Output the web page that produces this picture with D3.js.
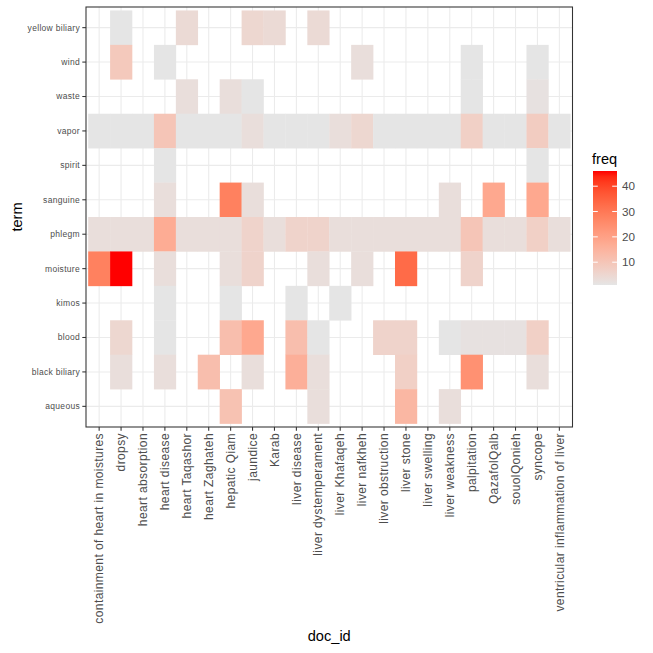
<!DOCTYPE html>
<html>
<head>
  <meta charset="utf-8">
  <title>term by doc_id heatmap</title>
  <script src="https://cdn.jsdelivr.net/npm/d3@7"></script>
  <style>
    body { margin: 0; background: #fff; }
    text { font-family: "Liberation Sans", Arial, sans-serif; }
  </style>
</head>
<body>
<script>
// categories
var docIds = ["containment of heart in moistures", "dropsy", "heart absorption", "heart disease",
  "heart Taqashor", "heart Zaghateh", "hepatic Qiam", "jaundice", "Karab", "liver disease",
  "liver dystemperament", "liver Khafaqeh", "liver nafkheh", "liver obstruction", "liver stone",
  "liver swelling", "liver weakness", "palpitation", "QazafolQalb", "souolQonieh", "syncope",
  "ventricular inflammation of liver"];

// top to bottom, as drawn
var terms = ["yellow biliary", "wind", "waste", "vapor", "spirit", "sanguine",
  "phlegm", "moisture", "kimos", "blood", "black biliary", "aqueous"];

// freq, one row per term (same order as terms), one value per doc_id, null = no tile
var _ = null;
var freq = [
  [_, 1, _, _, 4, _, _, 5, 4, _, 4, _, _, _, _, _, _, _, _, _, _, _],
  [_, 9, _, 1, _, _, _, _, _, _, _, _, 3, _, _, _, _, 1, _, _, 1, _],
  [_, _, _, _, 3, _, 3, 1, _, _, _, _, _, _, _, _, _, 1, _, _, 2, _],
  [1, 1, 1, 10, 1, 1, 1, 3, 1, 1, 1, 3, 5, 1, 1, 1, 1, 7, 1, 1, 8, 1],
  [_, _, _, 1, _, _, _, _, _, _, _, _, _, _, _, _, _, _, _, _, 1, _],
  [_, _, _, 3, _, _, 28, 3, _, _, _, _, _, _, _, _, 3, _, 18, _, 18, _],
  [3, 3, 3, 17, 3, 3, 3, 6, 3, 6, 6, 3, 3, 3, 3, 3, 3, 10, 3, 3, 7, 3],
  [28, 46, _, 3, _, _, 3, 6, _, _, 3, _, 3, _, 33, _, _, 6, _, _, _, _],
  [_, _, _, 1, _, _, 1, _, _, 1, _, 1, _, _, _, _, _, _, _, _, _, _],
  [_, 5, _, 1, _, _, 12, 18, _, 12, 1, _, _, 6, 6, _, 1, 2, 2, 2, 7, _],
  [_, 3, _, 3, _, 12, _, 3, _, 16, 3, _, _, _, 7, _, _, 24, _, _, 3, _],
  [_, _, _, _, _, _, 11, _, _, _, 3, _, _, _, 14, _, 3, _, _, _, _, _]
];

var legendTicks = [10, 20, 30, 40];
var freqRange = [1, 46];

var width = 653, height = 653;
var panel = { left: 86, right: 572.5, top: 7, bottom: 427 };

var svg = d3.select("body").append("svg")
  .attr("width", width)
  .attr("height", height);

// long format for the tiles
var cells = [];
terms.forEach(function (t, i) {
  docIds.forEach(function (d, j) {
    if (freq[i][j] !== null) cells.push({ term: t, doc: d, freq: freq[i][j] });
  });
});

var x = d3.scaleBand().domain(docIds)
  .range([panel.left, panel.right]).paddingInner(0).paddingOuter(0.1);
var y = d3.scaleBand().domain(terms)
  .range([panel.top, panel.bottom]).paddingInner(0).paddingOuter(0.1);

var color = d3.scaleLinear().domain(freqRange)
  .range(["#e5e5e5", "#ff0000"])
  .interpolate(d3.interpolateLab);

// grid
var grid = svg.append("g");
grid.selectAll(".gx").data(docIds).enter().append("line")
  .attr("x1", function (d) { return x(d) + x.bandwidth() / 2; })
  .attr("x2", function (d) { return x(d) + x.bandwidth() / 2; })
  .attr("y1", panel.top).attr("y2", panel.bottom)
  .attr("stroke", "#ebebeb").attr("stroke-width", 1.07);
grid.selectAll(".gy").data(terms).enter().append("line")
  .attr("y1", function (d) { return y(d) + y.bandwidth() / 2; })
  .attr("y2", function (d) { return y(d) + y.bandwidth() / 2; })
  .attr("x1", panel.left).attr("x2", panel.right)
  .attr("stroke", "#ebebeb").attr("stroke-width", 1.07);

// tiles
svg.append("g").selectAll("rect").data(cells).enter().append("rect")
  .attr("x", function (d) { return x(d.doc); })
  .attr("y", function (d) { return y(d.term); })
  .attr("width", x.bandwidth() + 0.3)
  .attr("height", y.bandwidth() + 0.3)
  .attr("fill", function (d) { return color(d.freq); });

// panel border
svg.append("rect")
  .attr("x", panel.left).attr("y", panel.top)
  .attr("width", panel.right - panel.left)
  .attr("height", panel.bottom - panel.top)
  .attr("fill", "none").attr("stroke", "#333333").attr("stroke-width", 1.07);

// x axis
var xAxis = svg.append("g");
xAxis.selectAll("line").data(docIds).enter().append("line")
  .attr("x1", function (d) { return x(d) + x.bandwidth() / 2; })
  .attr("x2", function (d) { return x(d) + x.bandwidth() / 2; })
  .attr("y1", panel.bottom).attr("y2", panel.bottom + 3.7)
  .attr("stroke", "#333333").attr("stroke-width", 1.07);
xAxis.selectAll("text").data(docIds).enter().append("text")
  .attr("transform", function (d) {
    return "translate(" + (x(d) + x.bandwidth() / 2) + "," + (panel.bottom + 6) + ") rotate(-90)";
  })
  .attr("dy", "0.35em")
  .attr("text-anchor", "end")
  .attr("font-size", 12)
  .attr("letter-spacing", 0.4)
  .attr("fill", "#4d4d4d")
  .text(function (d) { return d; });

// y axis
var yAxis = svg.append("g");
yAxis.selectAll("line").data(terms).enter().append("line")
  .attr("y1", function (d) { return y(d) + y.bandwidth() / 2; })
  .attr("y2", function (d) { return y(d) + y.bandwidth() / 2; })
  .attr("x1", panel.left - 3.7).attr("x2", panel.left)
  .attr("stroke", "#333333").attr("stroke-width", 1.07);
yAxis.selectAll("text").data(terms).enter().append("text")
  .attr("x", panel.left - 6)
  .attr("y", function (d) { return y(d) + y.bandwidth() / 2; })
  .attr("dy", "0.35em")
  .attr("text-anchor", "end")
  .attr("font-size", 8.5)
  .attr("letter-spacing", 0.3)
  .attr("fill", "#4d4d4d")
  .text(function (d) { return d; });

// axis titles
svg.append("text")
  .attr("x", (panel.left + panel.right) / 2)
  .attr("y", 641)
  .attr("text-anchor", "middle")
  .attr("font-size", 14.6)
  .text("doc_id");

svg.append("text")
  .attr("transform", "translate(22," + ((panel.top + panel.bottom) / 2) + ") rotate(-90)")
  .attr("text-anchor", "middle")
  .attr("font-size", 14.6)
  .text("term");

// legend (colorbar)
var barX = 593, barW = 24, barTop = 171, barBottom = 285;
var ly = d3.scaleLinear().domain(freqRange).range([barBottom, barTop]);

var defs = svg.append("defs");
var grad = defs.append("linearGradient").attr("id", "freqgrad")
  .attr("x1", 0).attr("y1", 1).attr("x2", 0).attr("y2", 0);
d3.range(0, 1.0001, 0.05).forEach(function (t) {
  grad.append("stop")
    .attr("offset", t)
    .attr("stop-color", color(freqRange[0] + t * (freqRange[1] - freqRange[0])));
});

svg.append("text")
  .attr("x", barX - 1)
  .attr("y", 164)
  .attr("font-size", 14.6)
  .text("freq");

svg.append("rect")
  .attr("x", barX).attr("y", barTop)
  .attr("width", barW).attr("height", barBottom - barTop)
  .attr("fill", "url(#freqgrad)");

var lt = svg.append("g");
lt.selectAll(".tl").data(legendTicks).enter().append("line")
  .attr("x1", barX).attr("x2", barX + barW / 5)
  .attr("y1", function (d) { return ly(d); }).attr("y2", function (d) { return ly(d); })
  .attr("stroke", "#fff").attr("stroke-width", 1);
lt.selectAll(".tr").data(legendTicks).enter().append("line")
  .attr("x1", barX + barW - barW / 5).attr("x2", barX + barW)
  .attr("y1", function (d) { return ly(d); }).attr("y2", function (d) { return ly(d); })
  .attr("stroke", "#fff").attr("stroke-width", 1);
lt.selectAll("text").data(legendTicks).enter().append("text")
  .attr("x", barX + barW + 5)
  .attr("y", function (d) { return ly(d); })
  .attr("dy", "0.35em")
  .attr("font-size", 11.7)
  .attr("fill", "#4d4d4d")
  .text(function (d) { return d; });
</script>
</body>
</html>
